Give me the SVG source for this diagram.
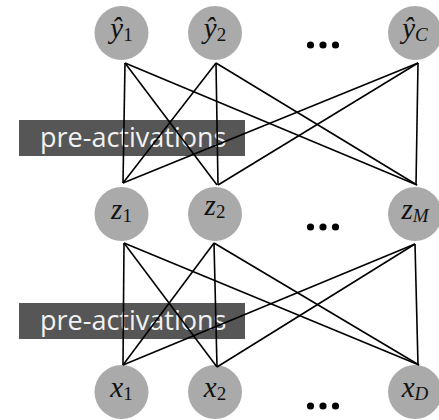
<svg xmlns="http://www.w3.org/2000/svg" width="439" height="420" viewBox="0 0 439 420">
<style>
.node circle{fill:#aaaaaa}
.node text{font-family:"Liberation Serif","DejaVu Serif",serif;font-style:italic;font-size:29px;fill:#111;text-anchor:middle}
.sub{font-size:19px}
.up{font-style:normal}
.dots circle{fill:#000}
.label rect{fill:#565656}
.label text{font-family:"Open Sans","Noto Sans",sans-serif;font-size:27px;fill:#f2f2f2}
#connectors line{stroke:#000;stroke-width:1.6;fill:none}
</style>
<rect width="439" height="420" fill="#fff"/>
<g id="y1" class="node"><circle cx="121.5" cy="33" r="27"/><text x="121.5" y="38">ŷ<tspan class="sub up" dy="3">1</tspan></text></g>
<g id="y2" class="node"><circle cx="215" cy="33" r="27"/><text x="215" y="38">ŷ<tspan class="sub up" dy="3">2</tspan></text></g>
<g id="yC" class="node"><circle cx="415" cy="33" r="27"/><text x="415" y="38">ŷ<tspan class="sub" dy="3">C</tspan></text></g>
<g id="z1" class="node"><circle cx="121.5" cy="214" r="27"/><text x="121.5" y="219">z<tspan class="sub up" dy="3">1</tspan></text></g>
<g id="z2" class="node"><circle cx="215" cy="214" r="27"/><text x="215" y="215">z<tspan class="sub up" dy="3">2</tspan></text></g>
<g id="zM" class="node"><circle cx="415" cy="214" r="27"/><text x="415" y="219">z<tspan class="sub" dy="3">M</tspan></text></g>
<g id="x1" class="node"><circle cx="121.5" cy="392" r="27"/><text x="121.5" y="397">x<tspan class="sub up" dy="3">1</tspan></text></g>
<g id="x2" class="node"><circle cx="215" cy="392" r="27"/><text x="215" y="397">x<tspan class="sub up" dy="3">2</tspan></text></g>
<g id="xD" class="node"><circle cx="415" cy="392" r="27"/><text x="415" y="397">x<tspan class="sub" dy="3">D</tspan></text></g>
<g class="dots" id="dots-top"><circle cx="310.5" cy="45" r="3.6"/><circle cx="323" cy="45" r="3.6"/><circle cx="335.5" cy="45" r="3.6"/></g>
<g class="dots" id="dots-mid"><circle cx="310.5" cy="227" r="3.6"/><circle cx="323" cy="227" r="3.6"/><circle cx="335.5" cy="227" r="3.6"/></g>
<g class="dots" id="dots-bot"><circle cx="310.5" cy="406" r="3.6"/><circle cx="323" cy="406" r="3.6"/><circle cx="335.5" cy="406" r="3.6"/></g>
<g id="label-top" class="label"><rect x="19" y="120" width="226" height="36"/><text x="40" y="147">pre-activations</text></g>
<g id="label-bot" class="label"><rect x="19" y="303" width="226" height="36"/><text x="40" y="330">pre-activations</text></g>
<g id="connectors">
<line x1="125" y1="63" x2="123" y2="183"/>
<line x1="125" y1="63" x2="217" y2="185"/>
<line x1="125" y1="63" x2="417" y2="185"/>
<line x1="216" y1="63" x2="123" y2="183"/>
<line x1="216" y1="63" x2="218" y2="185"/>
<line x1="216" y1="63" x2="417" y2="185"/>
<line x1="418" y1="63" x2="123" y2="183"/>
<line x1="418" y1="63" x2="218" y2="185"/>
<line x1="418" y1="63" x2="416" y2="185"/>
<line x1="124" y1="243" x2="123" y2="365"/>
<line x1="124" y1="243" x2="217" y2="367"/>
<line x1="124" y1="243" x2="419" y2="365"/>
<line x1="214" y1="243" x2="123" y2="365"/>
<line x1="214" y1="243" x2="217" y2="367"/>
<line x1="214" y1="243" x2="419" y2="365"/>
<line x1="415" y1="244" x2="123" y2="365"/>
<line x1="415" y1="244" x2="217" y2="367"/>
<line x1="415" y1="244" x2="418" y2="365"/>
</g>
</svg>
